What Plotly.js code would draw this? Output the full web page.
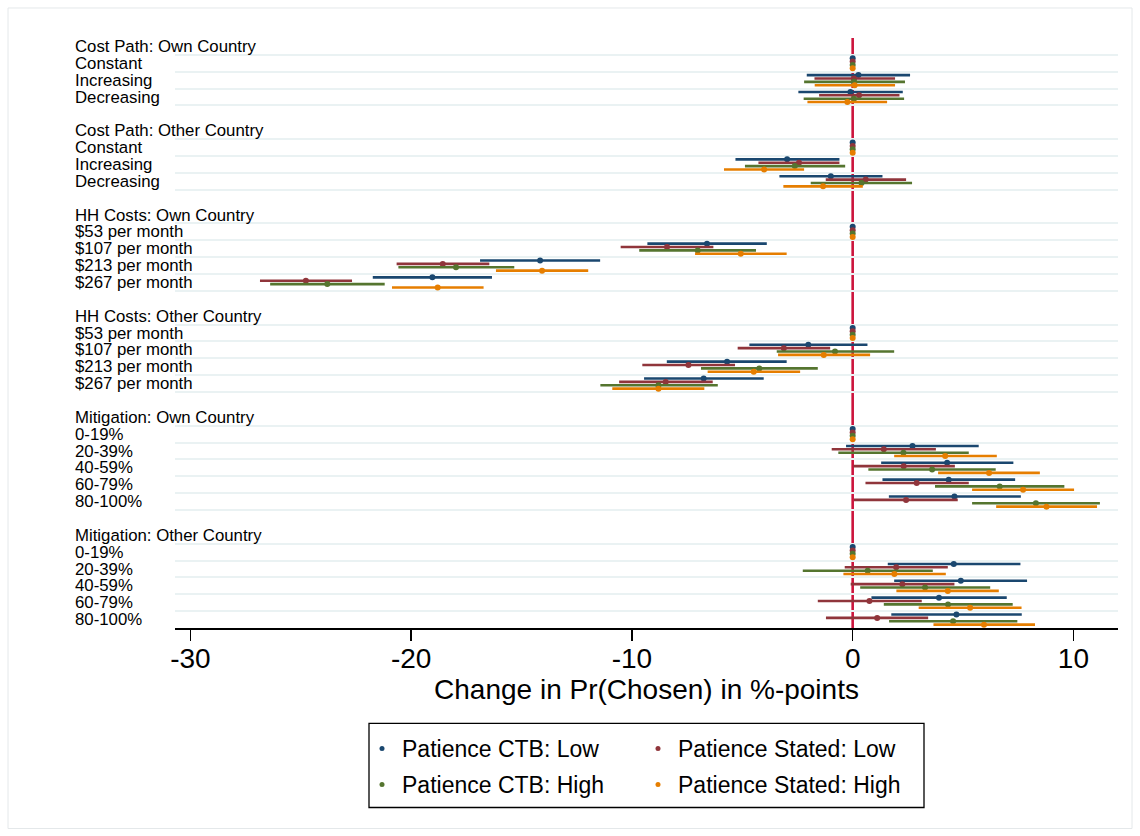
<!DOCTYPE html>
<html><head><meta charset="utf-8">
<script src="https://cdn.plot.ly/plotly-3.0.1.min.js"></script>
<style>html,body{margin:0;padding:0;background:#fff;} #chart{width:1140px;height:836px;}</style>
</head><body><div id="chart"></div>
<script>
// ---- data ----
const groups = ["Cost Path: Own Country", "Cost Path: Other Country", "HH Costs: Own Country",
                "HH Costs: Other Country", "Mitigation: Own Country", "Mitigation: Other Country"];
const levels = [
  ["Constant", "Increasing", "Decreasing"],
  ["Constant", "Increasing", "Decreasing"],
  ["$53 per month", "$107 per month", "$213 per month", "$267 per month"],
  ["$53 per month", "$107 per month", "$213 per month", "$267 per month"],
  ["0-19%", "20-39%", "40-59%", "60-79%", "80-100%"],
  ["0-19%", "20-39%", "40-59%", "60-79%", "80-100%"]
];
const tickValues = [-30, -20, -10, 0, 10];
const tickLabels = ["-30", "-20", "-10", "0", "10"];
const axisTitle = "Change in Pr(Chosen) in %-points";

const ctbLowEst = [0, 0.26, -0.10, 0, -2.97, -0.99, 0, -6.60, -14.16, -19.04, 0, -2.01, -5.69, -6.75, 0, 2.71, 4.28, 4.35, 4.61, 0, 4.58, 4.90, 3.91, 4.70];
const ctbLowLo  = [0, -2.08, -2.46, 0, -5.31, -3.32, 0, -9.30, -16.88, -21.74, 0, -4.68, -8.42, -9.45, 0, -0.30, 1.29, 1.35, 1.64, 0, 1.59, 1.88, 0.85, 1.75];
const ctbLowHi  = [0, 2.60, 2.27, 0, -0.60, 1.35, 0, -3.89, -11.44, -16.34, 0, 0.67, -2.99, -4.03, 0, 5.71, 7.28, 7.36, 7.62, 0, 7.60, 7.90, 6.98, 7.66];

const statedLowEst = [0, 0.06, 0.29, 0, -2.43, 0.59, 0, -8.41, -18.57, -24.77, 0, -3.12, -7.44, -8.47, 0, 1.41, 2.31, 2.90, 2.42, 0, 1.97, 2.25, 0.76, 1.11];
const statedLowLo  = [0, -1.73, -1.52, 0, -4.27, -1.22, 0, -10.51, -20.66, -26.85, 0, -5.21, -9.53, -10.58, 0, -0.95, 0.03, 0.58, 0.06, 0, -0.36, -0.09, -1.58, -1.21];
const statedLowHi  = [0, 1.92, 2.12, 0, -0.60, 2.42, 0, -6.31, -16.46, -22.68, 0, -1.02, -5.33, -6.34, 0, 3.77, 4.63, 5.26, 4.76, 0, 4.31, 4.61, 3.13, 3.42];

const ctbHighEst = [0, 0.06, 0.06, 0, -2.62, 0.40, 0, -7.02, -17.97, -23.80, 0, -0.80, -4.23, -8.80, 0, 2.30, 3.60, 6.66, 8.30, 0, 0.68, 3.28, 4.32, 4.55];
const ctbHighLo  = [0, -2.20, -2.22, 0, -4.88, -1.90, 0, -9.67, -20.58, -26.39, 0, -3.44, -6.87, -11.43, 0, -0.65, 0.71, 3.73, 5.41, 0, -2.26, 0.34, 1.41, 1.65];
const ctbHighHi  = [0, 2.37, 2.33, 0, -0.34, 2.69, 0, -4.38, -15.33, -21.20, 0, 1.88, -1.58, -6.11, 0, 5.26, 6.48, 9.59, 11.20, 0, 3.63, 6.23, 7.25, 7.46];

const statedHighEst = [0, 0.09, -0.24, 0, -4.01, -1.34, 0, -5.07, -14.07, -18.80, 0, -1.31, -4.48, -8.80, 0, 4.19, 6.18, 7.72, 8.78, 0, 1.89, 4.31, 5.32, 5.95];
const statedHighLo  = [0, -1.72, -2.05, 0, -5.83, -3.14, 0, -7.14, -16.16, -20.87, 0, -3.38, -6.57, -10.89, 0, 1.88, 3.87, 5.41, 6.50, 0, -0.42, 1.98, 2.99, 3.66];
const statedHighHi  = [0, 1.92, 1.56, 0, -2.20, 0.46, 0, -2.99, -11.98, -16.72, 0, 0.79, -2.38, -6.72, 0, 6.53, 8.48, 10.03, 11.07, 0, 4.22, 6.62, 7.65, 8.26];

const seriesNames = ["Patience CTB: Low", "Patience Stated: Low", "Patience CTB: High", "Patience Stated: High"];

// ---- layout of rows ----
let pos = 0;
const headerPos = [], levelPos = [], levelNames = [];
groups.forEach((g, gi) => {
  headerPos.push(pos); pos++;
  levels[gi].forEach(l => { levelPos.push(pos); levelNames.push(l); pos++; });
  pos++;
});
const lastRow = pos - 2;

const FONT = "'Liberation Sans', Arial, Helvetica, sans-serif";
const series = [
  {name: seriesNames[0], color: "rgb(26,71,111)",  est: ctbLowEst,     lo: ctbLowLo,     hi: ctbLowHi,     off: -0.3, leg: "legend"},
  {name: seriesNames[1], color: "rgb(144,53,59)",  est: statedLowEst,  lo: statedLowLo,  hi: statedLowHi,  off: -0.1, leg: "legend"},
  {name: seriesNames[2], color: "rgb(85,117,47)",  est: ctbHighEst,    lo: ctbHighLo,    hi: ctbHighHi,    off: 0.1,  leg: "legend2"},
  {name: seriesNames[3], color: "rgb(230,126,0)",  est: statedHighEst, lo: statedHighLo, hi: statedHighHi, off: 0.3,  leg: "legend2"}
];

const traces = [];
series.forEach(s => {
  traces.push({
    type: "scatter", mode: "markers", showlegend: false, hoverinfo: "skip",
    x: s.est, y: levelPos.map(p => p + s.off),
    marker: {color: s.color, size: 6},
    error_x: {type: "data", symmetric: false,
      array: s.hi.map((h, i) => h - s.est[i]),
      arrayminus: s.lo.map((l, i) => s.est[i] - l),
      width: 0, thickness: 2.6, color: s.color}
  });
});
series.forEach(s => {
  traces.push({
    type: "scatter", mode: "markers", name: s.name, legend: s.leg,
    x: [null], y: [null], marker: {color: s.color, size: 5}
  });
});

const annotations = [];
headerPos.forEach((p, i) => annotations.push({text: groups[i], y: p}));
levelPos.forEach((p, i) => annotations.push({text: levelNames[i], y: p}));
annotations.forEach(a => Object.assign(a, {
  x: 0, xref: "paper", yref: "y", xanchor: "left", yanchor: "middle", xshift: -102,
  showarrow: false, font: {family: FONT, size: 16.8, color: "#000"}
}));

const L = 175, R = 22, T = 38, B = 836 - 627.6;
const W = 1140 - L - R, H = 836 - T - B;
const px = v => (v - L) / W;
const py = v => (836 - B - v) / H;

const shapes = [
  {type: "line", xref: "x", yref: "paper", x0: 0, x1: 0, y0: 0, y1: 1, layer: "between",
   line: {color: "rgb(204,20,60)", width: 2.6}},
  {type: "rect", xref: "paper", yref: "paper", x0: px(369), x1: px(924), y0: py(807), y1: py(723),
   line: {color: "#000", width: 1.3}},
  {type: "rect", xref: "paper", yref: "paper", x0: px(8), x1: px(1132), y0: py(828), y1: py(8),
   line: {color: "rgb(228,232,234)", width: 1}}
];

const legendBase = {orientation: "h", xref: "paper", yref: "paper", x: px(362), xanchor: "left",
  yanchor: "middle", entrywidth: 231, entrywidthmode: "pixels", bgcolor: "rgba(0,0,0,0)",
  borderwidth: 0, font: {family: FONT, size: 23, color: "#000"}, traceorder: "normal"};

const layout = {
  width: 1140, height: 836,
  margin: {l: L, r: R, t: T, b: B, pad: 0},
  paper_bgcolor: "#fff", plot_bgcolor: "#fff",
  font: {family: FONT, color: "#000"},
  xaxis: {range: [-30.7, 12.02], tickmode: "array", tickvals: tickValues, ticktext: tickLabels,
    ticks: "outside", ticklen: 11, tickwidth: 1.5, tickcolor: "#000", ticklabelstandoff: -7,
    showline: true, linecolor: "#000", linewidth: 2, showgrid: false, zeroline: false,
    tickfont: {family: FONT, size: 28, color: "#000"},
    title: {text: axisTitle, font: {family: FONT, size: 28, color: "#000"}, standoff: 0}},
  yaxis: {range: [lastRow + 0.5, -0.5], tickmode: "array",
    tickvals: headerPos.concat(levelPos).map(p => p + 0.5),
    showticklabels: false, ticks: "", showgrid: true, gridcolor: "rgb(234,242,243)", gridwidth: 2,
    zeroline: false, showline: false},
  legend: Object.assign({}, legendBase, {y: py(748)}),
  legend2: Object.assign({}, legendBase, {y: py(784)}),
  annotations: annotations,
  shapes: shapes
};

Plotly.newPlot("chart", traces, layout, {staticPlot: true, displayModeBar: false});
</script></body></html>
